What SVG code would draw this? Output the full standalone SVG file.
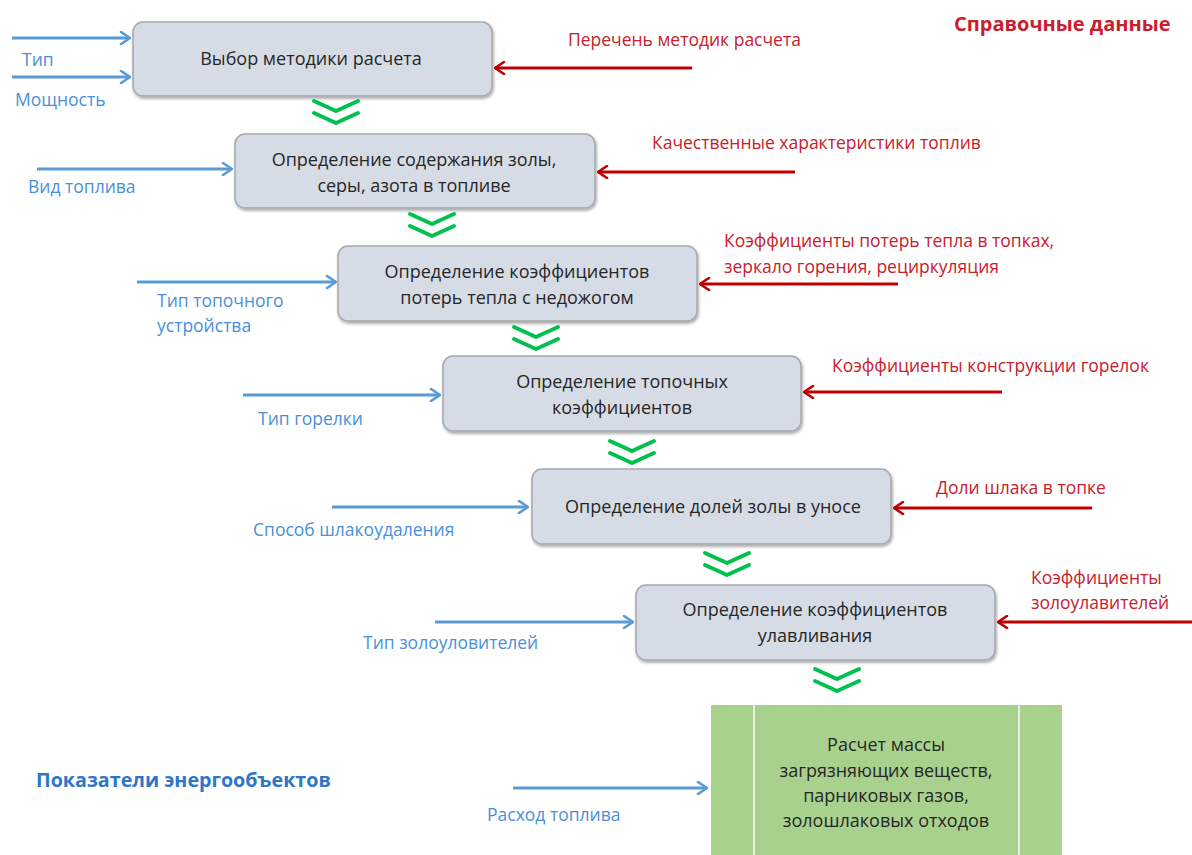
<svg xmlns="http://www.w3.org/2000/svg" width="1192" height="855" viewBox="0 0 1192 855">
<defs>
<style>
.box{fill:#d6dce5;stroke:#a5a8ad;stroke-width:1.5}
.bt{font-family:"Open Sans","Liberation Sans",sans-serif;font-size:18px;fill:#262626;text-anchor:middle}
.bl{font-family:"Open Sans","Liberation Sans",sans-serif;font-size:17.5px;fill:#4a90d9}
.rd{font-family:"Open Sans","Liberation Sans",sans-serif;font-size:17.5px;fill:#c8202c}
.ba{stroke:#5b9bd5;stroke-width:3;fill:none;marker-end:url(#mb)}
.ra{stroke:#c00000;stroke-width:3;fill:none;marker-end:url(#mr)}
.ch{stroke:#00c050;stroke-width:4;fill:none;stroke-linecap:round;stroke-linejoin:round}
</style>
<marker id="mb" viewBox="0 0 12 14" refX="11" refY="7" markerWidth="12" markerHeight="14" markerUnits="userSpaceOnUse" orient="auto">
<path d="M2,1 L11,7 L2,13" fill="none" stroke="#5b9bd5" stroke-width="2.6" stroke-linecap="round" stroke-linejoin="round"/>
</marker>
<marker id="mr" viewBox="0 0 12 14" refX="11" refY="7" markerWidth="12" markerHeight="14" markerUnits="userSpaceOnUse" orient="auto">
<path d="M2,1 L11,7 L2,13" fill="none" stroke="#c00000" stroke-width="2.6" stroke-linecap="round" stroke-linejoin="round"/>
</marker>
<filter id="sh" x="-5%" y="-10%" width="115%" height="130%">
<feDropShadow dx="1" dy="2" stdDeviation="1.5" flood-color="#000" flood-opacity="0.35"/>
</filter>
</defs>
<rect width="1192" height="855" fill="#fff"/>

<g id="headers">
<text x="954" y="31" font-family="'Open Sans','Liberation Sans',sans-serif" font-size="20" font-weight="bold" fill="#c8202c">Справочные данные</text>
<text x="36" y="787" font-family="'Open Sans','Liberation Sans',sans-serif" font-size="19.7" font-weight="bold" fill="#2f75c8">Показатели энергообъектов</text>
</g>

<g id="n1"><rect class="box" filter="url(#sh)" x="133" y="22" width="359" height="74" rx="10"/>
<text class="bt" x="311" y="65">Выбор методики расчета</text></g>
<g id="n2"><rect class="box" filter="url(#sh)" x="235" y="134" width="360" height="74" rx="10"/>
<text class="bt" x="414" y="166">Определение содержания золы,</text>
<text class="bt" x="414" y="192">серы, азота в топливе</text></g>
<g id="n3"><rect class="box" filter="url(#sh)" x="338" y="246" width="359" height="75" rx="10"/>
<text class="bt" x="517" y="278">Определение коэффициентов</text>
<text class="bt" x="517" y="304">потерь тепла с недожогом</text></g>
<g id="n4"><rect class="box" filter="url(#sh)" x="443" y="356" width="358" height="75" rx="10"/>
<text class="bt" x="622" y="388">Определение топочных</text>
<text class="bt" x="622" y="414">коэффициентов</text></g>
<g id="n5"><rect class="box" filter="url(#sh)" x="532" y="469" width="359" height="75" rx="10"/>
<text class="bt" x="713" y="513">Определение долей золы в уносе</text></g>
<g id="n6"><rect class="box" filter="url(#sh)" x="636" y="585" width="359" height="75" rx="10"/>
<text class="bt" x="815" y="616">Определение коэффициентов</text>
<text class="bt" x="815" y="642">улавливания</text></g>
<g id="n7">
<rect x="711" y="705" width="351" height="155" fill="#a9d18e"/>
<line x1="754" y1="705" x2="754" y2="855" stroke="#e8f0e0" stroke-width="2"/>
<line x1="1019" y1="705" x2="1019" y2="855" stroke="#e8f0e0" stroke-width="2"/>
<text class="bt" x="886" y="751">Расчет массы</text>
<text class="bt" x="886" y="777">загрязняющих веществ,</text>
<text class="bt" x="886" y="802">парниковых газов,</text>
<text class="bt" x="886" y="827">золошлаковых отходов</text>
</g>

<g id="connectors">
<path class="ch" d="M314,101 L336,111 L358,101 M314,113 L336,123 L358,113"/>
<path class="ch" d="M410,214 L432,224 L454,214 M410,226 L432,236 L454,226"/>
<path class="ch" d="M514,327 L536,337 L558,327 M514,339 L536,349 L558,339"/>
<path class="ch" d="M610,441 L632,451 L654,441 M610,453 L632,463 L654,453"/>
<path class="ch" d="M705,553 L727,563 L749,553 M705,565 L727,575 L749,565"/>
<path class="ch" d="M815,669 L837,679 L859,669 M815,681 L837,691 L859,681"/>

<line class="ba" x1="12" y1="38" x2="130" y2="38"/>
<line class="ba" x1="12" y1="77" x2="130" y2="77"/>
<line class="ba" x1="37" y1="169" x2="232" y2="169"/>
<line class="ba" x1="137" y1="282" x2="336" y2="282"/>
<line class="ba" x1="243" y1="395" x2="440" y2="395"/>
<line class="ba" x1="332" y1="507" x2="528" y2="507"/>
<line class="ba" x1="435" y1="622" x2="633" y2="622"/>
<line class="ba" x1="513" y1="788" x2="707" y2="788"/>

<line class="ra" x1="692" y1="68" x2="495" y2="68"/>
<line class="ra" x1="795" y1="172" x2="598" y2="172"/>
<line class="ra" x1="898" y1="284" x2="700" y2="284"/>
<line class="ra" x1="1002" y1="392" x2="804" y2="392"/>
<line class="ra" x1="1092" y1="508" x2="894" y2="508"/>
<line class="ra" x1="1192" y1="622" x2="998" y2="622"/>
</g>

<g id="labels">
<text class="bl" x="22" y="66">Тип</text>
<text class="bl" x="15" y="106">Мощность</text>
<text class="bl" x="28" y="193">Вид топлива</text>
<text class="bl" x="157" y="307">Тип топочного</text>
<text class="bl" x="157" y="332">устройства</text>
<text class="bl" x="258" y="425">Тип горелки</text>
<text class="bl" x="253" y="536">Способ шлакоудаления</text>
<text class="bl" x="363" y="649">Тип золоуловителей</text>
<text class="bl" x="487" y="821">Расход топлива</text>

<text class="rd" x="568" y="46">Перечень методик расчета</text>
<text class="rd" x="652" y="149">Качественные характеристики топлив</text>
<text class="rd" x="724" y="247">Коэффициенты потерь тепла в топках,</text>
<text class="rd" x="724" y="273">зеркало горения, рециркуляция</text>
<text class="rd" x="832" y="372">Коэффициенты конструкции горелок</text>
<text class="rd" x="936" y="494">Доли шлака в топке</text>
<text class="rd" x="1031" y="584">Коэффициенты</text>
<text class="rd" x="1031" y="609">золоулавителей</text>
</g>
</svg>
